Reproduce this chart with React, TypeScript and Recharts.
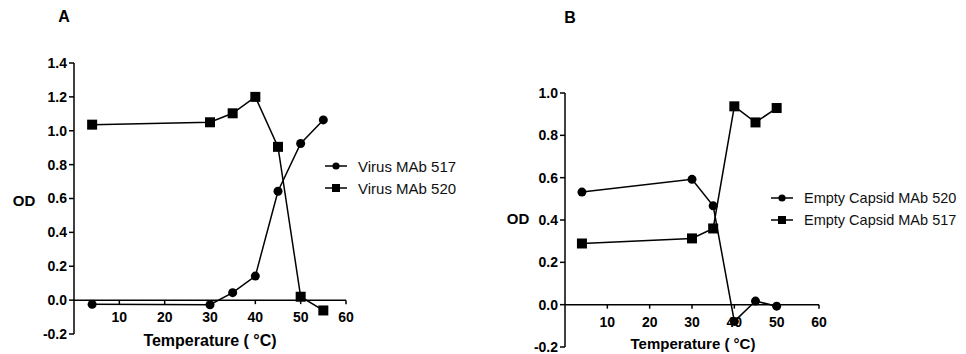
import { LineChart, Line, XAxis, YAxis, ReferenceLine } from "recharts";

// panel A: whole virus
const tempsA = [4, 30, 35, 40, 45, 50, 55];
const virusMab517 = [-0.025, -0.027, 0.044, 0.142, 0.643, 0.925, 1.064];
const virusMab520 = [1.036, 1.05, 1.103, 1.2, 0.905, 0.02, -0.061];

// panel B: empty capsid
const tempsB = [4, 30, 35, 40, 45, 50];
const capsidMab520 = [0.532, 0.592, 0.467, -0.079, 0.017, -0.007];
const capsidMab517 = [0.289, 0.313, 0.36, 0.937, 0.861, 0.929];

const xTicks = [10, 20, 30, 40, 50, 60];
const yTicksA = [-0.2, 0, 0.2, 0.4, 0.6, 0.8, 1.0, 1.2, 1.4];
const yTicksB = [-0.2, 0, 0.2, 0.4, 0.6, 0.8, 1.0];

const namesA = ["Virus MAb 517", "Virus MAb 520"];
const namesB = ["Empty Capsid MAb 520", "Empty Capsid MAb 517"];

const FONT = '"Liberation Sans", Arial, Helvetica, sans-serif';

const dataA = tempsA.map((t, i) => ({ t, a: virusMab517[i], b: virusMab520[i] }));
const dataB = tempsB.map((t, i) => ({ t, a: capsidMab520[i], b: capsidMab517[i] }));

const squareDot = (props: any) => {
  const { cx, cy, index } = props;
  if (cx == null || cy == null) return <g key={index} />;
  return <rect key={index} x={cx - 5} y={cy - 5} width={10} height={10} fill="#000" />;
};

// x ticks sit on the y=0 line, so the tick is lifted by the zero offset
const zeroTick = (lift: number) => (props: any) => {
  const { x, y, payload } = props;
  const y0 = y - lift;
  return (
    <g>
      <line x1={x} x2={x} y1={y0} y2={y0 + 4} stroke="#000" strokeWidth={1.5} />
      <text
        x={x}
        y={y0 + 22}
        textAnchor="middle"
        fontSize={14}
        fontWeight="bold"
        fontFamily={FONT}
        fill="#000"
      >
        {payload.value}
      </text>
    </g>
  );
};

const LegendRow = ({ label, square, fontSize }: { label: string; square: boolean; fontSize: number }) => (
  <div style={{ display: "flex", alignItems: "center", height: 22 }}>
    <svg width={22} height={12} style={{ marginRight: 11 }}>
      <line x1={0} x2={22} y1={6} y2={6} stroke="#000" strokeWidth={1.5} />
      {square ? <rect x={7} y={2} width={8} height={8} fill="#000" /> : <circle cx={11} cy={6} r={3.6} fill="#000" />}
    </svg>
    <span style={{ fontSize, fontFamily: FONT, color: "#111" }}>{label}</span>
  </div>
);

interface PanelProps {
  data: { t: number; a: number; b: number }[];
  yTicks: number[];
  width: number;
  plotTop: number;
  plotBottom: number;
  marginLeft: number;
  marginRight: number;
}

function Panel({ data, yTicks, width, plotTop, plotBottom, marginLeft, marginRight }: PanelProps) {
  const yMin = yTicks[0];
  const yMax = yTicks[yTicks.length - 1];
  const plotHeight = plotBottom - plotTop;
  const lift = (plotHeight * (0 - yMin)) / (yMax - yMin);
  return (
    <LineChart
      width={width}
      height={354}
      data={data}
      margin={{ top: plotTop, right: marginRight, bottom: 0, left: marginLeft }}
    >
      <XAxis
        type="number"
        dataKey="t"
        domain={[0, 60]}
        ticks={xTicks}
        interval={0}
        height={354 - plotBottom}
        axisLine={false}
        tickLine={false}
        tickSize={0}
        tickMargin={0}
        tick={zeroTick(lift)}
      />
      <YAxis
        type="number"
        domain={[yMin, yMax]}
        ticks={yTicks}
        interval={0}
        width={40}
        axisLine={{ stroke: "#000", strokeWidth: 1.5 }}
        tickLine={{ stroke: "#000", strokeWidth: 1.5 }}
        tickSize={5}
        tickMargin={2}
        tickFormatter={(v: number) => v.toFixed(1)}
        tick={{ fill: "#000", fontSize: 14, fontWeight: "bold", fontFamily: FONT }}
      />
      <ReferenceLine y={0} stroke="#000" strokeWidth={1.5} />
      <Line
        dataKey="a"
        type="linear"
        stroke="#000"
        strokeWidth={1.5}
        dot={{ r: 4.5, fill: "#000", stroke: "#000", strokeWidth: 0 }}
        isAnimationActive={false}
      />
      <Line
        dataKey="b"
        type="linear"
        stroke="#000"
        strokeWidth={1.5}
        dot={squareDot}
        isAnimationActive={false}
      />
    </LineChart>
  );
}

const textBold = { fontFamily: FONT, fontWeight: "bold" as const, fill: "#000" };

export default function App() {
  return (
    <div style={{ position: "absolute", left: 0, top: 0, width: 966, height: 354, background: "#fff", overflow: "hidden" }}>
      <svg width={966} height={354} style={{ position: "absolute", left: 0, top: 0 }}>
        <text x={64} y={16} textAnchor="middle" dominantBaseline="central" fontSize={16} {...textBold}>A</text>
        <text x={570} y={17} textAnchor="middle" dominantBaseline="central" fontSize={16} {...textBold}>B</text>
        <text x={24} y={200} textAnchor="middle" dominantBaseline="central" fontSize={15} {...textBold}>OD</text>
        <text x={518} y={218} textAnchor="middle" dominantBaseline="central" fontSize={15} {...textBold}>OD</text>
        <text x={210} y={340} textAnchor="middle" dominantBaseline="central" fontSize={16} {...textBold}>Temperature ( °C)</text>
        <text x={693} y={343} textAnchor="middle" dominantBaseline="central" fontSize={15} {...textBold}>Temperature ( °C)</text>
      </svg>

      <div style={{ position: "absolute", left: 0, top: 0 }}>
        <Panel data={dataA} yTicks={yTicksA} width={480} plotTop={63} plotBottom={334} marginLeft={34} marginRight={134} />
      </div>
      <div style={{ position: "absolute", left: 480, top: 0 }}>
        <Panel data={dataB} yTicks={yTicksB} width={486} plotTop={93} plotBottom={347} marginLeft={45} marginRight={147} />
      </div>

      <div style={{ position: "absolute", left: 325, top: 155 }}>
        <LegendRow label={namesA[0]} square={false} fontSize={15} />
        <LegendRow label={namesA[1]} square={true} fontSize={15} />
      </div>
      <div style={{ position: "absolute", left: 771, top: 187 }}>
        <LegendRow label={namesB[0]} square={false} fontSize={14.5} />
        <LegendRow label={namesB[1]} square={true} fontSize={14.5} />
      </div>
    </div>
  );
}
